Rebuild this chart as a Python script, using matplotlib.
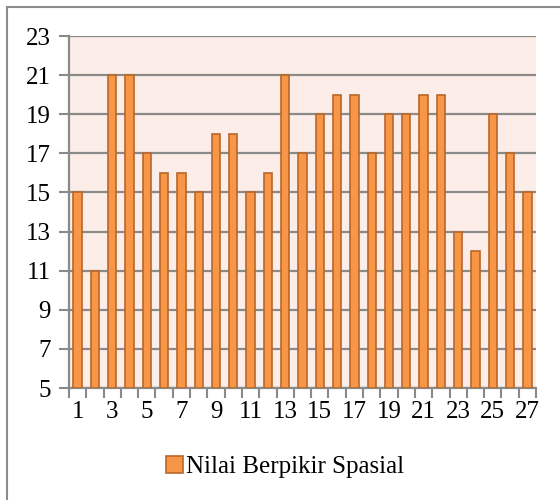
import matplotlib.pyplot as plt
from matplotlib.patches import Rectangle
import numpy as np

students = list(range(1, 28))
scores = [15, 11, 21, 21, 17, 16, 16, 15, 18, 18, 15, 16, 21, 17, 19,
          20, 20, 17, 19, 19, 20, 20, 13, 12, 19, 17, 15]
series_name = "Nilai Berpikir Spasial"
y_ticks = list(range(5, 24, 2))
x_labels = [str(s) if s % 2 == 1 else "" for s in students]

plt.rcParams["font.family"] = "serif"
plt.rcParams["font.serif"] = ["Liberation Serif", "Times New Roman", "DejaVu Serif"]
fig = plt.figure(figsize=(5.6, 5.0), dpi=100)
ax = fig.add_axes([69 / 560, 1 - 388 / 500, (536 - 69) / 560, (388 - 36) / 500])

# outer chart frame (only top/left fall inside the image)
fig.patches.append(Rectangle((7 / 560, -0.05), 1.1, 1 - 7 / 500 + 0.05,
                             transform=fig.transFigure, fill=False,
                             edgecolor="#8c8c8c", linewidth=1.5))

ax.set_facecolor("#fcede8")
x = np.array(students)
ax.bar(x, [s - 5 for s in scores], bottom=5, width=0.48, color="#f79646",
       edgecolor="#b8672a", linewidth=1.2, label=series_name, zorder=3)

ax.set_xlim(0.5, 27.5)
ax.set_ylim(5, 23)
ax.set_yticks(y_ticks)
ax.yaxis.grid(True, color="#8a8a8a", linewidth=1.6, zorder=1)
ax.set_axisbelow(True)

ax.set_xticks(x)
ax.set_xticklabels(x_labels)
ax.tick_params(axis="x", length=0, labelsize=18, pad=9)
ax.set_xticks(np.arange(0.5, 28, 1), minor=True)
ax.tick_params(axis="x", which="minor", length=7, width=1.5, color="#8a8a8a")
ax.tick_params(axis="y", length=7, width=1.5, color="#8a8a8a", labelsize=18, pad=6)

for side in ["top", "right"]:
    ax.spines[side].set_visible(False)
for side in ["left", "bottom"]:
    ax.spines[side].set_color("#8a8a8a")
    ax.spines[side].set_linewidth(1.6)

fig.legend(loc="center", bbox_to_anchor=(285 / 560, 1 - 467 / 500), frameon=False,
           fontsize=18, handlelength=0.7, handleheight=0.7, handletextpad=0.1)

fig.savefig("out.png", dpi=100)
